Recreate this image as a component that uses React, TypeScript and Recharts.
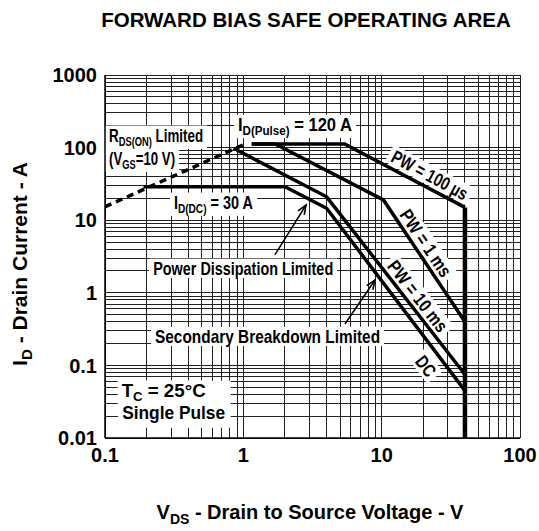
import React from 'react';
import { LineChart, Line, XAxis, YAxis, CartesianGrid, ReferenceDot, ReferenceLine } from 'recharts';

const FONT = "'Liberation Sans', Arial, Helvetica, sans-serif";

// ---- series: x = V_DS (V), y = I_D (A) ----
const rdsOnLimit = [
  { x: 0.1, y: 15.3 },
  { x: 1.03, y: 112 },
];
const pw100us = [
  { x: 1.15, y: 112 },
  { x: 5.4, y: 112 },
  { x: 40, y: 15 },
];
const pw1ms = [
  { x: 1.15, y: 112 },
  { x: 1.7, y: 112 },
  { x: 10.3, y: 19 },
  { x: 40, y: 0.4 },
];
const pw10ms = [
  { x: 0.85, y: 98 },
  { x: 4, y: 21 },
  { x: 40, y: 0.075 },
];
const dcLine = [
  { x: 0.19, y: 29 },
  { x: 2, y: 29 },
  { x: 4, y: 14.6 },
  { x: 40, y: 0.045 },
];
const vdssLimit = [
  { x: 40, y: 15 },
  { x: 40, y: 0.01 },
];

// ---- axes ----
const xTicks = [0.1, 0.2, 0.3, 0.4, 0.5, 0.6, 0.7, 0.8, 0.9, 1, 2, 3, 4, 5, 6, 7, 8, 9, 10, 20, 30, 40, 50, 60, 70, 80, 90, 100];
const yTicks = [
  0.01, 0.02, 0.03, 0.04, 0.05, 0.06, 0.07, 0.08, 0.09,
  0.1, 0.2, 0.3, 0.4, 0.5, 0.6, 0.7, 0.8, 0.9,
  1, 2, 3, 4, 5, 6, 7, 8, 9,
  10, 20, 30, 40, 50, 60, 70, 80, 90,
  100, 200, 300, 400, 500, 600, 700, 800, 900, 1000,
];
const xLabelValues = [0.1, 1, 10, 100];
const xLabelTexts = ['0.1', '1', '10', '100'];
const yLabelValues = [0.01, 0.1, 1, 10, 100, 1000];
const yLabelTexts = ['0.01', '0.1', '1', '10', '100', '1000'];

const fmt = (vals: number[], texts: string[]) => (v: number) => {
  const i = vals.findIndex((d) => Math.abs(d - v) / d < 1e-6);
  return i >= 0 ? texts[i] : '';
};

// ---- annotations (anchored in data coordinates) ----
type Part = { t: string; sub?: boolean };
type Lab = {
  x: number; y: number; parts: Part[]; w: number; angle: number;
  anchor: 'start' | 'middle'; box?: { x: number; y: number; w: number; h: number };
};
const labels: Lab[] = [
  { x: 0.132, y: 0.037, parts: [], w: 0, angle: 0, anchor: 'start', box: { x: -3, y: -16, w: 112, h: 47 } },
  { x: 0.107, y: 120, parts: [{ t: 'R' }, { t: 'DS(ON)', sub: true }, { t: ' Limited' }], w: 94, angle: 0, anchor: 'start' },
  { x: 0.107, y: 57.5, parts: [{ t: '(V' }, { t: 'GS', sub: true }, { t: '=10 V)' }], w: 66, angle: 0, anchor: 'start' },
  { x: 0.915, y: 169, parts: [{ t: 'I' }, { t: 'D(Pulse)', sub: true }, { t: ' = 120 A' }], w: 114, angle: 0, anchor: 'start' },
  { x: 0.315, y: 14.3, parts: [{ t: 'I' }, { t: 'D(DC)', sub: true }, { t: ' = 30 A' }], w: 79, angle: 0, anchor: 'start' },
  { x: 0.223, y: 1.76, parts: [{ t: 'Power Dissipation Limited' }], w: 180, angle: 0, anchor: 'start' },
  { x: 0.23, y: 0.204, parts: [{ t: 'Secondary Breakdown Limited' }], w: 225, angle: 0, anchor: 'start' },
  { x: 0.132, y: 0.037, parts: [{ t: 'T' }, { t: 'C', sub: true }, { t: ' = 25°C' }], w: 84, angle: 0, anchor: 'start' },
  { x: 0.133, y: 0.0181, parts: [{ t: 'Single Pulse' }], w: 103, angle: 0, anchor: 'start' },
  { x: 22.3, y: 42, parts: [{ t: 'PW = 100 µs' }], w: 84, angle: 28.3, anchor: 'middle' },
  { x: 20.9, y: 4.85, parts: [{ t: 'PW = 1 ms' }], w: 77, angle: 56, anchor: 'middle' },
  { x: 18.3, y: 0.904, parts: [{ t: 'PW = 10 ms' }], w: 85, angle: 52, anchor: 'middle' },
  { x: 20.9, y: 0.098, parts: [{ t: 'DC' }], w: 21, angle: 52, anchor: 'middle' },
];

const arrows = [
  { from: { x: 1.69, y: 3.32 }, to: { x: 2.84, y: 16.2 } },
  { from: { x: 5.43, y: 0.372 }, to: { x: 8.95, y: 1.5 } },
];

const FS = 18.5;
const SUB = 0.7;
const SUBDY = 4;

function renderLabel(lab: Lab) {
  return (p: any) => {
    const cx = p.cx, cy = p.cy;
    if (cx == null || cy == null) return <g />;
    const capH = FS * 0.72;
    const hasSub = lab.parts.some((q) => q.sub);
    const ty = lab.anchor === 'middle' ? capH / 2 : 0;
    const rx = lab.anchor === 'middle' ? -lab.w / 2 - 4 : -4;
    const ry = ty - capH - 3;
    const rh = capH + 6 + (hasSub ? SUBDY : 0);
    return (
      <g transform={`translate(${cx},${cy}) rotate(${lab.angle})`}>
        {lab.box ? (
          <rect x={lab.box.x} y={lab.box.y} width={lab.box.w} height={lab.box.h} fill="#fff" />
        ) : null}
        {lab.parts.length ? <rect x={rx} y={ry} width={lab.w + 8} height={rh} fill="#fff" /> : null}
        {lab.parts.length ? (
          <text
            x={0}
            y={ty}
            textAnchor={lab.anchor}
            fontSize={FS}
            fontWeight="bold"
            fontFamily={FONT}
            fill="#000"
            textLength={lab.w}
            lengthAdjust="spacingAndGlyphs"
          >
            {lab.parts.map((q, i) => {
              const prevSub = i > 0 && lab.parts[i - 1].sub;
              const dy = q.sub ? SUBDY : prevSub ? -SUBDY : 0;
              return (
                <tspan key={i} fontSize={q.sub ? FS * SUB : FS} dy={dy}>
                  {q.t}
                </tspan>
              );
            })}
          </text>
        ) : null}
      </g>
    );
  };
}

const ArrowShape = (p: any) => {
  const { x1, y1, x2, y2 } = p;
  if ([x1, y1, x2, y2].some((v) => v == null || isNaN(v))) return <g />;
  const a = Math.atan2(y2 - y1, x2 - x1);
  const L = 10, s = 0.38;
  const hx1 = x2 - L * Math.cos(a - s), hy1 = y2 - L * Math.sin(a - s);
  const hx2 = x2 - L * Math.cos(a + s), hy2 = y2 - L * Math.sin(a + s);
  return (
    <g>
      <line x1={x1} y1={y1} x2={x2} y2={y2} stroke="#000" strokeWidth={1.5} />
      <path d={`M${hx1},${hy1}L${x2},${y2}L${hx2},${hy2}`} fill="none" stroke="#000" strokeWidth={1.6} />
    </g>
  );
};

const tickStyle = { fontSize: 20, fontWeight: 'bold', fill: '#000', fontFamily: FONT } as any;

export default function App() {
  return (
    <div style={{ position: 'relative', width: 539, height: 531, background: '#fff' }}>
      <style>{'body{margin:0;background:#fff}'}</style>
      <LineChart width={539} height={531} margin={{ top: 75, right: 19, bottom: 63, left: 45 }}>
        <CartesianGrid stroke="#222" strokeWidth={1} shapeRendering="crispEdges" />
        <XAxis
          dataKey="x"
          type="number"
          scale="log"
          domain={[0.1, 100]}
          allowDataOverflow
          ticks={xTicks}
          interval={0}
          tickFormatter={fmt(xLabelValues, xLabelTexts)}
          tickLine={false}
          tickSize={0}
          tickMargin={10}
          height={30}
          axisLine={{ stroke: '#000', strokeWidth: 1.5 }}
          tick={tickStyle}
        />
        <YAxis
          type="number"
          scale="log"
          domain={[0.01, 1000]}
          allowDataOverflow
          ticks={yTicks}
          interval={0}
          tickFormatter={fmt(yLabelValues, yLabelTexts)}
          tickLine={false}
          tickSize={0}
          tickMargin={8}
          width={60}
          axisLine={{ stroke: '#000', strokeWidth: 1.5 }}
          tick={tickStyle}
        />
        {labels.map((lab, i) => (
          <ReferenceDot key={'l' + i} x={lab.x} y={lab.y} r={0} ifOverflow="visible" shape={renderLabel(lab)} {...({ zIndex: 350 } as any)} />
        ))}
        {arrows.map((a, i) => (
          <ReferenceLine key={'a' + i} segment={[a.from, a.to]} ifOverflow="visible" shape={ArrowShape} />
        ))}
        <Line data={rdsOnLimit} dataKey="y" type="linear" dot={false} stroke="#000" strokeWidth={3.5} strokeDasharray="7 5" isAnimationActive={false} />
        <Line data={pw100us} dataKey="y" type="linear" dot={false} stroke="#000" strokeWidth={3.5} isAnimationActive={false} />
        <Line data={pw1ms} dataKey="y" type="linear" dot={false} stroke="#000" strokeWidth={3.5} isAnimationActive={false} />
        <Line data={pw10ms} dataKey="y" type="linear" dot={false} stroke="#000" strokeWidth={3.5} isAnimationActive={false} />
        <Line data={dcLine} dataKey="y" type="linear" dot={false} stroke="#000" strokeWidth={3.5} isAnimationActive={false} />
        <Line data={vdssLimit} dataKey="y" type="linear" dot={false} stroke="#000" strokeWidth={4.5} isAnimationActive={false} />
      </LineChart>
      <svg width={539} height={531} style={{ position: 'absolute', left: 0, top: 0, pointerEvents: 'none' }}>
        <text x={306} y={27} textAnchor="middle" fontSize={20.5} fontWeight="bold" fontFamily={FONT} fill="#000">
          FORWARD BIAS SAFE OPERATING AREA
        </text>
        <text x={310} y={519} textAnchor="middle" fontSize={20} fontWeight="bold" fontFamily={FONT} fill="#000">
          V<tspan fontSize={14} dy={5}>DS</tspan>
          <tspan dy={-5}> - Drain to Source Voltage - V</tspan>
        </text>
        <text transform="translate(27,264) rotate(-90)" textAnchor="middle" fontSize={21} fontWeight="bold" fontFamily={FONT} fill="#000">
          I<tspan fontSize={15} dy={5}>D</tspan>
          <tspan dy={-5}> - Drain Current - A</tspan>
        </text>
      </svg>
    </div>
  );
}
